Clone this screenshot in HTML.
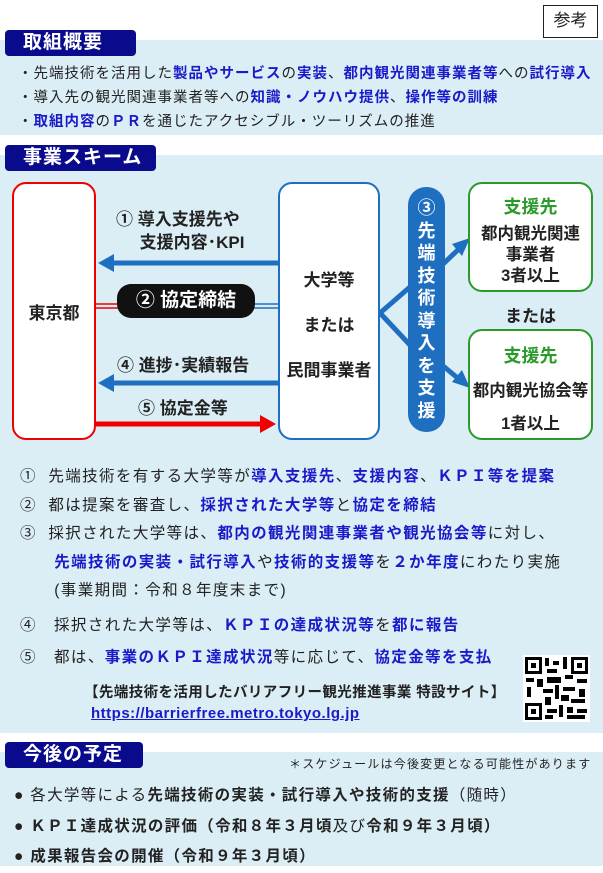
<!DOCTYPE html>
<html><head><meta charset="utf-8"><style>
*{margin:0;padding:0;box-sizing:border-box}
body{width:603px;height:871px;background:#fff;position:relative;overflow:hidden;font-family:"Liberation Sans","Noto Sans CJK JP",sans-serif;color:#222}
.a{position:absolute;white-space:nowrap}
.band{position:absolute;left:0;width:603px;background:#dbeef5}
.hd{position:absolute;background:#0a0a8c;color:#fff;font-weight:bold;font-size:19px;border-radius:4px;padding-left:18px;line-height:26px;letter-spacing:1px}
b{color:#1a1ac8}
.box{position:absolute;background:#fff;border-radius:14px;border:2px solid}
.ct{position:absolute;width:100%;text-align:center;font-weight:bold;font-size:17px}
</style></head><body>
<div class="a" style="left:543px;top:5px;width:55px;height:33px;border:1.5px solid #222;font-size:17px;text-align:center;line-height:30px">参考</div>
<div class="band" style="top:40px;height:95px"></div>
<div class="hd" style="left:5px;top:30px;width:131px">取組概要</div>
<div class="a" style="left:18px;top:62px;font-size:14.5px;line-height:24px;letter-spacing:1px">・先端技術を活用した<b>製品やサービス</b>の<b>実装</b>、<b>都内観光関連事業者等</b>への<b>試行導入</b><br>・導入先の観光関連事業者等への<b>知識・ノウハウ提供</b>、<b>操作等の訓練</b><br>・<b>取組内容</b>の<b>ＰＲ</b>を通じたアクセシブル・ツーリズムの推進</div>
<div class="band" style="top:155px;height:578px"></div>
<div class="hd" style="left:5px;top:145px;width:151px">事業スキーム</div>
<svg class="a" style="left:0;top:170px" width="603" height="280">
<line x1="96" y1="134" x2="120" y2="134" stroke="#e00" stroke-width="1.5"/><line x1="96" y1="138" x2="120" y2="138" stroke="#e00" stroke-width="1.5"/>
<line x1="250" y1="134" x2="280" y2="134" stroke="#1f6fc0" stroke-width="1.5"/><line x1="250" y1="138" x2="280" y2="138" stroke="#1f6fc0" stroke-width="1.5"/>
<line x1="278" y1="93" x2="110" y2="93" stroke="#1f6fc0" stroke-width="5"/><polygon points="98,93 114,84 114,102" fill="#1f6fc0"/>
<line x1="278" y1="213" x2="110" y2="213" stroke="#1f6fc0" stroke-width="5"/><polygon points="98,213 114,204 114,222" fill="#1f6fc0"/>
<line x1="96" y1="254" x2="260" y2="254" stroke="#e00" stroke-width="5"/><polygon points="276,254 260,245 260,263" fill="#e00"/>
<polyline points="410,117 380,143 410,175" fill="none" stroke="#1f6fc0" stroke-width="5"/>
<line x1="442" y1="95" x2="462" y2="76" stroke="#1f6fc0" stroke-width="5"/><polygon points="470,68 452,74 462,86" fill="#1f6fc0"/>
<line x1="442" y1="195" x2="460" y2="210" stroke="#1f6fc0" stroke-width="5"/><polygon points="470,218 452,212 462,200" fill="#1f6fc0"/>
</svg>
<div class="box" style="left:12px;top:182px;width:84px;height:258px;border-color:#e00"><div class="ct" style="top:115px">東京都</div></div>
<div class="box" style="left:278px;top:182px;width:102px;height:258px;border-color:#1f6fc0"><div class="ct" style="top:74px;line-height:45px">大学等<br>または<br>民間事業者</div></div>
<div class="a" style="left:408px;top:187px;width:37px;height:245px;background:#1f6fc0;border-radius:18px;color:#fff;font-weight:bold;font-size:18px;text-align:center;line-height:22.5px;white-space:normal;padding-top:10px">③<br>先<br>端<br>技<br>術<br>導<br>入<br>を<br>支<br>援</div>
<div class="box" style="left:468px;top:182px;width:125px;height:110px;border-color:#2a9a2a"><div class="ct" style="top:9px;color:#2a9a2a;font-size:18px">支援先</div><div class="ct" style="top:40px;line-height:21px;color:#222;font-size:16.5px">都内観光関連<br>事業者<br>3者以上</div></div>
<div class="a" style="left:468px;top:302px;width:125px;text-align:center;font-weight:bold;font-size:17px">または</div>
<div class="box" style="left:468px;top:329px;width:125px;height:111px;border-color:#2a9a2a"><div class="ct" style="top:11px;color:#2a9a2a;font-size:18px">支援先</div><div class="ct" style="top:44px;color:#222;line-height:33px;font-size:16.5px">都内観光協会等<br>1者以上</div></div>
<div class="a" style="left:116px;top:208px;font-weight:bold;font-size:17px;line-height:23px">① 導入支援先や<br>&nbsp;&nbsp;&nbsp;&nbsp;&nbsp;支援内容･KPI</div>
<div class="a" style="left:117px;top:284px;width:138px;height:34px;background:#111;border-radius:14px;color:#fff;font-weight:bold;font-size:19px;text-align:center;line-height:34px">② 協定締結</div>
<div class="a" style="left:117px;top:351px;font-weight:bold;font-size:17px">④ 進捗･実績報告</div>
<div class="a" style="left:138px;top:394px;font-weight:bold;font-size:17px">⑤ 協定金等</div>
<div class="a" style="left:20px;top:463px;font-size:15.5px;line-height:28.5px;letter-spacing:1.4px">①&nbsp;&nbsp;先端技術を有する大学等が<b>導入支援先</b>、<b>支援内容</b>、<b>ＫＰＩ等を提案</b><br>②&nbsp;&nbsp;都は提案を審査し、<b>採択された大学等</b>と<b>協定を締結</b><br>③&nbsp;&nbsp;採択された大学等は、<b>都内の観光関連事業者や観光協会等</b>に対し、<br>&nbsp;&nbsp;&nbsp;&nbsp;&nbsp;&nbsp;<b>先端技術の実装・試行導入</b>や<b>技術的支援等</b>を<b>２か年度</b>にわたり実施<br>&nbsp;&nbsp;&nbsp;&nbsp;&nbsp;&nbsp;(事業期間：令和８年度末まで)</div>
<div class="a" style="left:20px;top:610px;font-size:15.5px;line-height:32px;letter-spacing:1.4px">④&nbsp;&nbsp;&nbsp;採択された大学等は、<b>ＫＰＩの達成状況等</b>を<b>都に報告</b><br>⑤&nbsp;&nbsp;&nbsp;都は、<b>事業のＫＰＩ達成状況</b>等に応じて、<b>協定金等を支払</b></div>
<div class="a" style="left:84px;top:681px;font-weight:bold;font-size:14.5px;letter-spacing:0.4px">【先端技術を活用したバリアフリー観光推進事業 特設サイト】</div>
<div class="a" style="left:91px;top:705px;font-weight:bold;font-size:15px;letter-spacing:0.5px;color:#1a1ac8;text-decoration:underline">https://barrierfree.metro.tokyo.lg.jp</div>
<svg class="a" style="left:523px;top:655px" width="67" height="67" shape-rendering="crispEdges"><rect width="67" height="67" fill="#fff"/>
<g fill="#000"><rect x="2" y="2" width="17" height="17"/><rect x="48" y="2" width="17" height="17"/><rect x="2" y="48" width="17" height="17"/></g>
<g fill="#fff"><rect x="5" y="5" width="11" height="11"/><rect x="51" y="5" width="11" height="11"/><rect x="5" y="51" width="11" height="11"/></g>
<g fill="#000"><rect x="8" y="8" width="5" height="5"/><rect x="54" y="8" width="5" height="5"/><rect x="8" y="54" width="5" height="5"/>
<rect x="22" y="3" width="4" height="8"/><rect x="30" y="6" width="6" height="4"/><rect x="40" y="2" width="4" height="12"/><rect x="24" y="14" width="10" height="4"/><rect x="3" y="23" width="8" height="4"/><rect x="14" y="24" width="6" height="8"/><rect x="24" y="22" width="14" height="6"/><rect x="42" y="20" width="8" height="4"/><rect x="54" y="24" width="10" height="4"/><rect x="4" y="32" width="4" height="10"/><rect x="20" y="34" width="10" height="4"/><rect x="32" y="30" width="4" height="14"/><rect x="40" y="32" width="12" height="4"/><rect x="56" y="34" width="6" height="8"/><rect x="22" y="42" width="6" height="8"/><rect x="38" y="40" width="8" height="6"/><rect x="48" y="44" width="14" height="4"/><rect x="24" y="54" width="10" height="4"/><rect x="36" y="50" width="4" height="12"/><rect x="44" y="52" width="6" height="6"/><rect x="54" y="54" width="10" height="4"/><rect x="22" y="60" width="8" height="4"/><rect x="44" y="60" width="18" height="4"/></g></svg>
<div class="band" style="top:752px;height:114px"></div>
<div class="hd" style="left:5px;top:742px;width:138px">今後の予定</div>
<div class="a" style="left:289px;top:755px;font-size:12px;letter-spacing:1.2px">＊スケジュールは今後変更となる可能性があります</div>
<div class="a" style="left:14px;top:781px;font-size:15.5px;line-height:30.5px;letter-spacing:1.3px">● 各大学等による<span style="font-weight:bold">先端技術の実装・試行導入や技術的支援</span>（随時）<br><span style="font-weight:bold">● ＫＰＩ達成状況の評価（令和８年３月頃</span>及び<span style="font-weight:bold">令和９年３月頃）</span><br><span style="font-weight:bold">● 成果報告会の開催（令和９年３月頃）</span></div>
</body></html>
